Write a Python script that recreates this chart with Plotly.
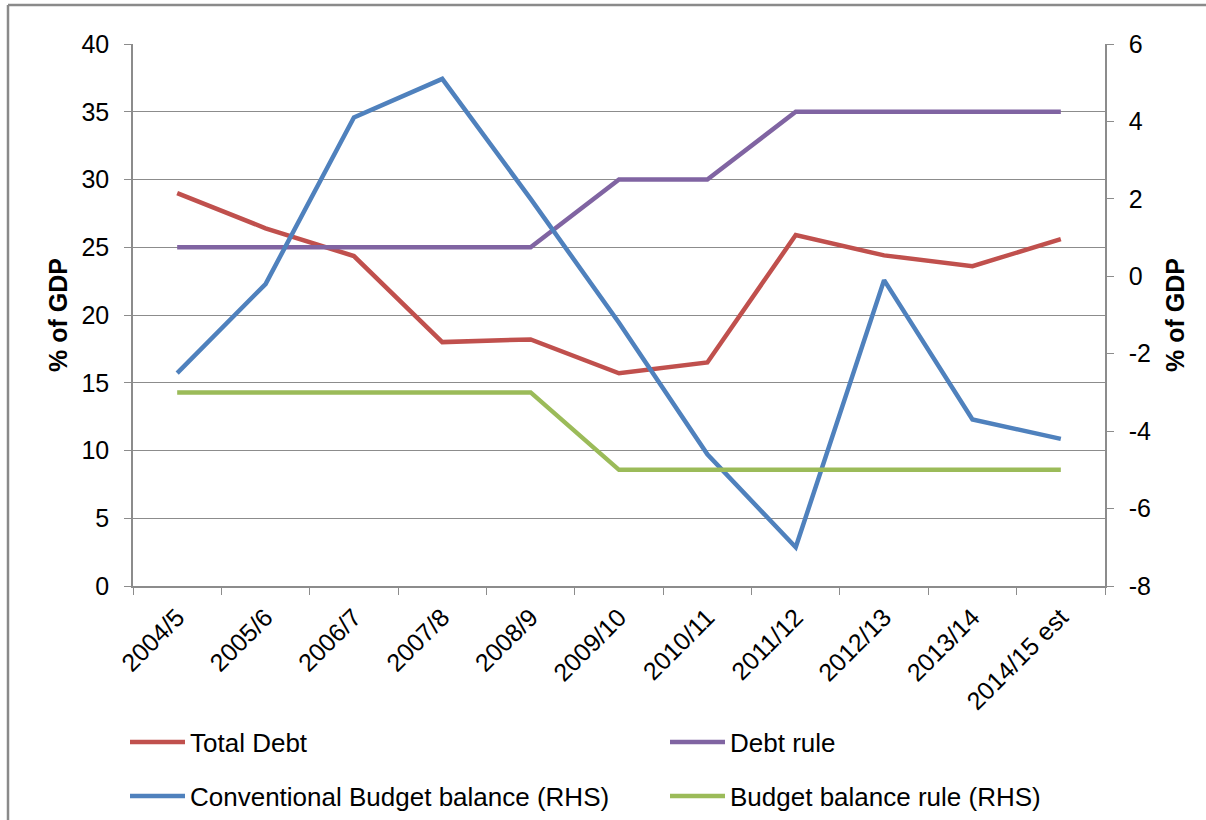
import plotly.graph_objects as go

categories = ["2004/5", "2005/6", "2006/7", "2007/8", "2008/9", "2009/10",
              "2010/11", "2011/12", "2012/13", "2013/14", "2014/15 est"]
total_debt = [29.0, 26.4, 24.35, 18.0, 18.2, 15.7, 16.5, 25.9, 24.4, 23.6, 25.6]
debt_rule = [25, 25, 25, 25, 25, 30, 30, 35, 35, 35, 35]
budget_balance = [-2.5, -0.2, 4.1, 5.1, 2.0, -1.2, -4.6, -7.0, -0.1, -3.7, -4.2]
budget_rule = [-3, -3, -3, -3, -3, -5, -5, -5, -5, -5, -5]
left_ticks = [0, 5, 10, 15, 20, 25, 30, 35, 40]
right_ticks = [-8, -6, -4, -2, 0, 2, 4, 6]
right_tick_labels = ["-8", "-6", "-4", "-2", "0", "2", "4", "6"]

FONT = "Liberation Sans, Arial, sans-serif"
GRID = "#8c8c8c"
TICKFONT = dict(family=FONT, size=25, color="black")
TITLEFONT = dict(family=FONT, size=25, color="black")

fig = go.Figure()
fig.add_trace(go.Scatter(x=categories, y=total_debt, name="Total Debt", mode="lines",
                         line=dict(color="#C0504D", width=4.5), legend="legend",
                         legendwidth=470))
fig.add_trace(go.Scatter(x=categories, y=debt_rule, name="Debt rule", mode="lines",
                         line=dict(color="#8064A2", width=4.5), legend="legend",
                         legendwidth=320))
fig.add_trace(go.Scatter(x=categories, y=budget_balance, name="Conventional Budget balance (RHS)",
                         mode="lines", line=dict(color="#4F81BD", width=4.5), yaxis="y2",
                         legend="legend2", legendwidth=470))
fig.add_trace(go.Scatter(x=categories, y=budget_rule, name="Budget balance rule (RHS)",
                         mode="lines", line=dict(color="#9BBB59", width=4.5), yaxis="y2",
                         legend="legend2", legendwidth=320))

legend_common = dict(orientation="h", xanchor="left", yanchor="middle",
                     xref="container", yref="container",
                     font=dict(family=FONT, size=26, color="black"),
                     entrywidthmode="pixels", itemwidth=55,
                     bgcolor="rgba(0,0,0,0)", traceorder="normal")

fig.update_layout(
    width=1206, height=820,
    margin=dict(l=133, r=101, t=44, b=234),
    paper_bgcolor="white", plot_bgcolor="white",
    font=dict(family=FONT, size=20, color="black"),
    showlegend=True,
    legend=dict(x=125/1206, y=1 - 742/820, **legend_common),
    legend2=dict(x=125/1206, y=1 - 796/820, **legend_common),
    xaxis=dict(type="category", range=[-0.5, 10.5], tickson="boundaries",
               ticks="outside", ticklen=7, tickcolor=GRID, tickwidth=1,
               showline=True, linecolor=GRID, linewidth=1.5, showgrid=False,
               tickangle=-45, ticklabelstandoff=5, automargin=False,
               tickfont=dict(family=FONT, size=25, color="black")),
    yaxis=dict(range=[0, 40], tickvals=left_ticks, ticks="outside", ticklen=7,
               tickcolor=GRID, showline=True, linecolor=GRID, linewidth=1.5,
               showgrid=True, gridcolor=GRID, gridwidth=1, zeroline=False,
               ticklabelstandoff=10, tickfont=TICKFONT, automargin=False,
               title=dict(text="<b>% of GDP</b>", font=TITLEFONT, standoff=7)),
    yaxis2=dict(range=[-8, 6], tickvals=right_ticks, ticktext=right_tick_labels,
                overlaying="y", side="right", automargin=False,
                ticks="outside", ticklen=7, tickcolor=GRID, showline=True, linecolor=GRID,
                linewidth=1.5, showgrid=False, zeroline=False,
                ticklabelstandoff=10, tickfont=TICKFONT,
                title=dict(text="<b>% of GDP</b>", font=TITLEFONT, standoff=16)),
    shapes=[
        dict(type="line", xref="paper", yref="paper", x0=-125/972, x1=1.2, y0=(586-5)/542, y1=(586-5)/542,
             line=dict(color="#8a8a8a", width=2.5)),
        dict(type="line", xref="paper", yref="paper", x0=-125/972, x1=-125/972, y0=(586-5)/542, y1=-0.5,
             line=dict(color="#8a8a8a", width=2.5)),
    ],
)

fig.write_html("out.html")
